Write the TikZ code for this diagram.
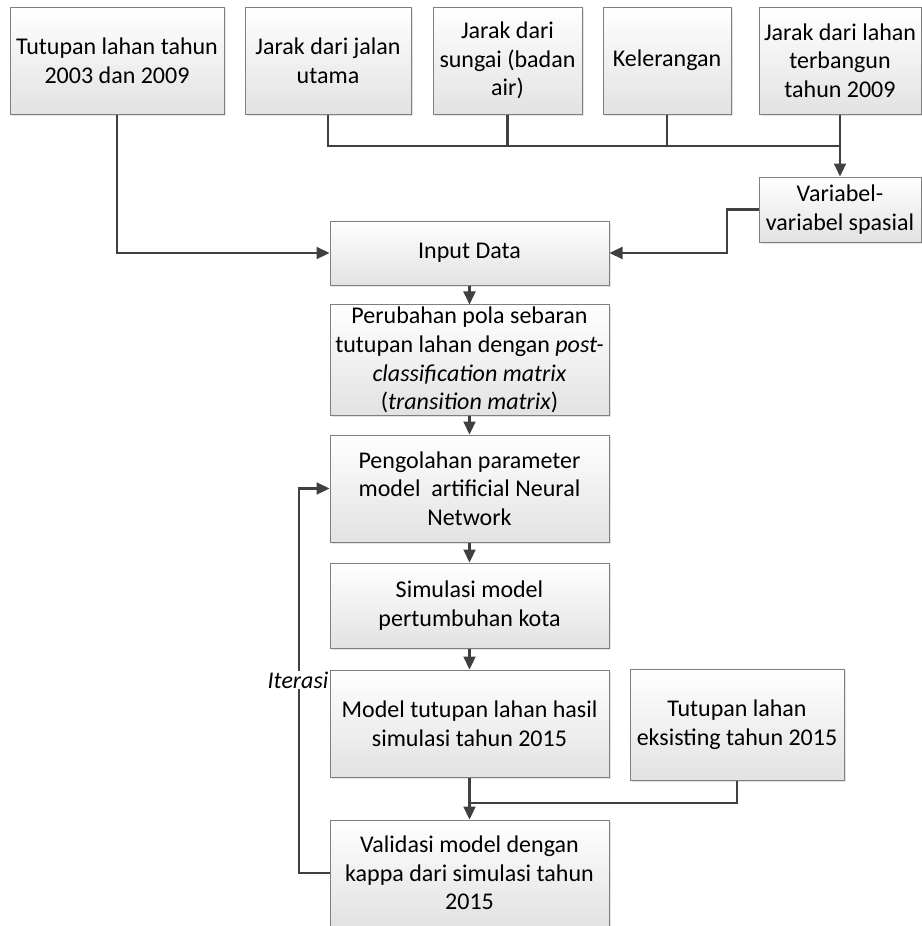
\documentclass[tikz,border=0pt]{standalone}
\usepackage{fontspec}
\setmainfont{Carlito}
\usetikzlibrary{arrows.meta,shadows}
\definecolor{linegray}{HTML}{404040}
\definecolor{boxline}{HTML}{7F7F7F}
\definecolor{boxbottom}{HTML}{E2E2E2}
\tikzset{
  flowbox/.style={draw=boxline, line width=1pt, top color=white, bottom color=boxbottom,
    align=center, inner sep=2pt, anchor=center,
    drop shadow={opacity=0.22, shadow xshift=2pt, shadow yshift=-2pt},
    font=\fontsize{24}{28.7}\selectfont},
  link/.style={draw=linegray, line width=2.2pt},
  arr/.style={link, -{Triangle[length=13pt,width=12pt]}},
}
\begin{document}
\begin{tikzpicture}[x=1pt,y=-1pt]
\useasboundingbox (0,0) rectangle (921,926);
\fill[white] (0,0) rectangle (921,926);

% input data sources
\node[flowbox, minimum width=214, minimum height=107] (b1) at (117,60.5) {Tutupan lahan tahun\\2003 dan 2009};
\node[flowbox, minimum width=166, minimum height=107] (b2) at (328,60.5) {Jarak dari jalan\\utama};
\node[flowbox, minimum width=149, minimum height=107] (b3) at (507.5,60.5) {Jarak dari\\sungai (badan\\air)};
\node[flowbox, minimum width=128, minimum height=107] (b4) at (667,60.5) {Kelerangan};
\node[flowbox, minimum width=162, minimum height=107] (b5) at (840,60.5) {Jarak dari lahan\\terbangun\\tahun 2009};
\node[flowbox, minimum width=162, minimum height=65] (var) at (840,209.5) {Variabel-\\variabel spasial};

% main process column
\node[flowbox, minimum width=279, minimum height=64] (input) at (469.5,253) {Input Data};
\node[flowbox, minimum width=279, minimum height=106] (perub) at (469.5,360) {Perubahan pola sebaran\\tutupan lahan dengan \textit{post-}\\\textit{classification matrix}\\(\textit{transition matrix})};
\node[flowbox, minimum width=279, minimum height=107] (peng) at (469.5,488.5) {Pengolahan parameter\\model\ \ artificial Neural\\Network};
\node[flowbox, minimum width=279, minimum height=85] (sim) at (469.5,605.5) {Simulasi model\\pertumbuhan kota};
\node[flowbox, minimum width=279, minimum height=107] (model) at (469.5,723.5) {Model tutupan lahan hasil\\simulasi tahun 2015};
\node[flowbox, minimum width=279, minimum height=106] (valid) at (469.5,873) {Validasi model dengan\\kappa dari simulasi tahun\\2015};
\node[flowbox, minimum width=214, minimum height=111] (eks) at (737,724.5) {Tutupan lahan\\eksisting tahun 2015};

% junction points
\coordinate (bus) at (840,146);
\coordinate (side) at (727,0);
\coordinate (merge) at (469.5,803);
\coordinate (loop) at (299,0);

% spatial variables bus
\draw[link] (b2.south) |- (bus);
\draw[link] (b3.south) -- (b3.south |- bus);
\draw[link] (b4.south) -- (b4.south |- bus);
\draw[arr] (b5.south) -- (var.north);
\draw[arr] (var.west) -- (var.west -| side) |- (input.east);
\draw[arr] (b1.south) |- (input.west);

% main flow
\draw[arr] (input.south) -- (perub.north);
\draw[arr] (perub.south) -- (peng.north);
\draw[arr] (peng.south) -- (sim.north);
\draw[arr] (sim.south) -- (model.north);
\draw[arr] (model.south) -- (valid.north);
\draw[link] (eks.south) |- (merge);

% iteration loop
\draw[arr] (valid.west) -| (loop |- peng.west) -- (peng.west);
\node[fill=white, inner sep=1pt, font=\fontsize{24}{28.7}\selectfont\itshape] (iter) at (298,680) {Iterasi};
\end{tikzpicture}
\end{document}
